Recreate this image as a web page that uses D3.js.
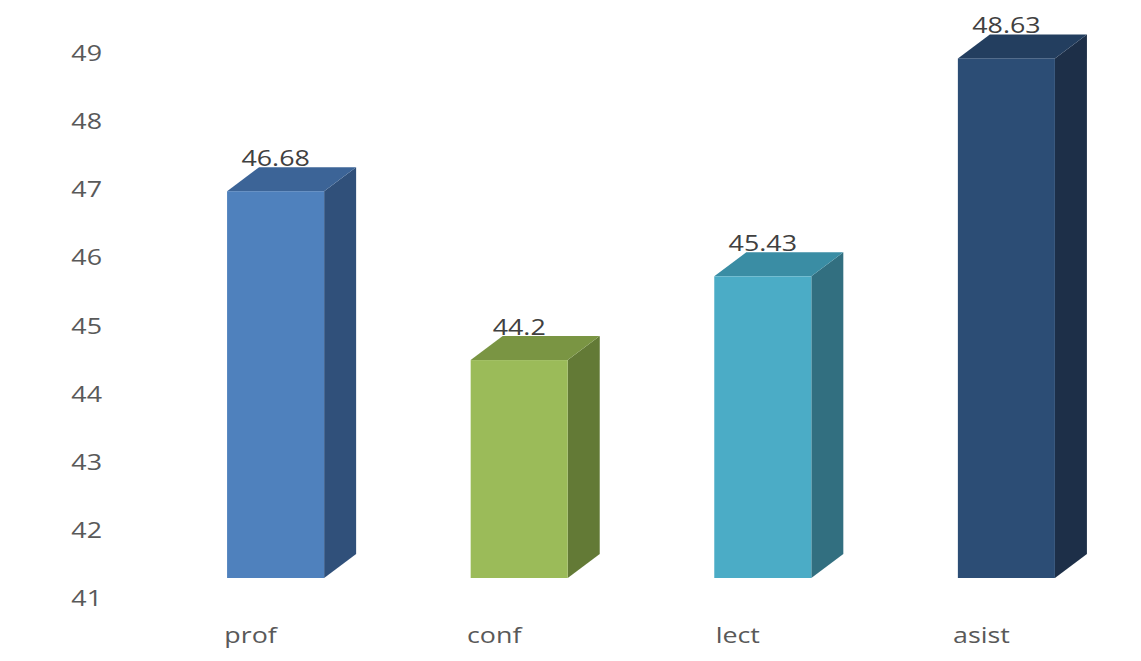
<!DOCTYPE html>
<html>
<head>
<meta charset="utf-8">
<script src="https://cdn.jsdelivr.net/npm/d3@7"></script>
<style>
  html, body { margin: 0; padding: 0; background: #fff; }
  svg { display: block; font-family: "Open Sans", "DejaVu Sans", sans-serif; }
</style>
</head>
<body>
<div id="chart"></div>
<script>
const categories = ['prof', 'conf', 'lect', 'asist'];
const values = [46.68, 44.2, 45.43, 48.63];
const yTicks = [41, 42, 43, 44, 45, 46, 47, 48, 49];
const frontColors = ['#4F81BD', '#9BBB59', '#4BACC6', '#2C4D75'];
const topColors = ['#3C6497', '#7A9543', '#3A8DA4', '#233E5F'];
const sideColors = ['#30507A', '#637A36', '#326F80', '#1D2F48'];

const width = 1141;
const height = 661;
const depthX = 32;
const depthY = -24;
const stretch = 1.22;

const svg = d3.select('#chart').append('svg').attr('width', width).attr('height', height);

const x = d3.scaleBand().domain(categories).range([154, 1128]).paddingInner(0.6016).paddingOuter(0.3);
const y = d3.scaleLinear().domain([41, 49]).range([578, 33.2]);

// value axis labels (sit a bit below the front plane)
svg.append('g')
  .selectAll('text')
  .data(yTicks)
  .enter()
  .append('text')
  .attr('transform', (d) => `translate(102,${y(d) + 20}) scale(${stretch},1)`)
  .attr('text-anchor', 'end')
  .attr('dy', '0.36em')
  .attr('font-size', 22)
  .attr('fill', '#595959')
  .text((d) => d);

const bars = svg.append('g')
  .selectAll('g')
  .data(categories.map((c, i) => ({ c, v: values[i], i })))
  .enter()
  .append('g');

// side face
bars.append('path')
  .attr('fill', (d) => sideColors[d.i])
  .attr('d', (d) => {
    const x1 = x(d.c) + x.bandwidth();
    const yt = y(d.v);
    const yb = y(41);
    return `M${x1},${yt}L${x1 + depthX},${yt + depthY}L${x1 + depthX},${yb + depthY}L${x1},${yb}Z`;
  });

// top face
bars.append('path')
  .attr('fill', (d) => topColors[d.i])
  .attr('d', (d) => {
    const x0 = x(d.c);
    const x1 = x0 + x.bandwidth();
    const yt = y(d.v);
    return `M${x0},${yt}L${x0 + depthX},${yt + depthY}L${x1 + depthX},${yt + depthY}L${x1},${yt}Z`;
  });

// front face
bars.append('rect')
  .attr('x', (d) => x(d.c))
  .attr('y', (d) => y(d.v))
  .attr('width', x.bandwidth())
  .attr('height', (d) => y(41) - y(d.v))
  .attr('fill', (d) => frontColors[d.i]);

// data labels
bars.append('text')
  .attr('transform', (d) => `translate(${x(d.c) + x.bandwidth() / 2},${y(d.v) + depthY - 1}) scale(${stretch},1)`)
  .attr('text-anchor', 'middle')
  .attr('font-size', 22)
  .attr('fill', '#404040')
  .text((d) => d.v);

// category labels
svg.append('g')
  .selectAll('text')
  .data(categories)
  .enter()
  .append('text')
  .attr('transform', (d) => `translate(${x(d) + x.bandwidth() / 2 - 25},${643}) scale(${stretch},1)`)
  .attr('text-anchor', 'middle')
  .attr('font-size', 22)
  .attr('fill', '#595959')
  .text((d) => d);
</script>
</body>
</html>
